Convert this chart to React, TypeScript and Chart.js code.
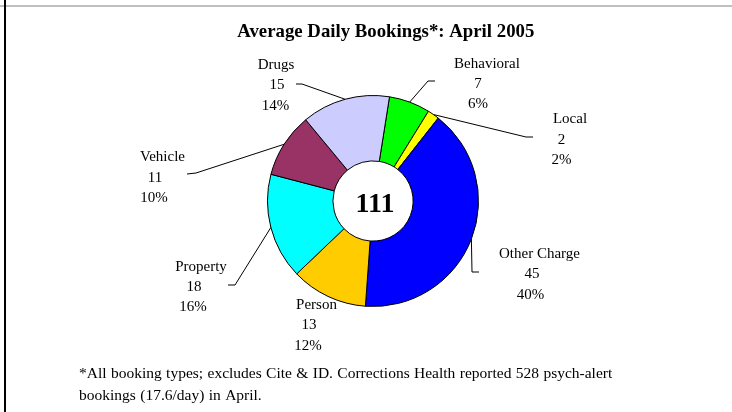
import React, { useEffect, useRef } from "react";
import { Chart, registerables } from "chart.js";

Chart.register(...registerables);

const categories = ["Behavioral", "Local", "Other Charge", "Person", "Property", "Vehicle", "Drugs"];
const bookings = [7, 2, 45, 13, 18, 11, 15];
const percentLabels = ["6%", "2%", "40%", "12%", "16%", "10%", "14%"];
const sliceColors = ["#00FF00", "#FFFF00", "#0000FF", "#FFCC00", "#00FFFF", "#993366", "#CCCCFF"];
const titleText = "Average Daily Bookings*: April 2005";
const footnoteLines = [
  "*All booking types; excludes Cite & ID. Corrections Health reported 528 psych-alert",
  "bookings (17.6/day) in April.",
];

const SERIF = '"Liberation Serif", "Times New Roman", serif';

// label layout: per-line [centerX, baselineY], leader path points after the arc anchor
const labelLayout: Record<string, { lines: number[][]; leader: number[][] }> = {
  Behavioral: { lines: [[487, 68], [478, 88], [478, 108]], leader: [[428, 81], [435, 81]] },
  Local: { lines: [[570, 123], [561.5, 143.5], [561.5, 164]], leader: [[526, 137], [533, 137]] },
  "Other Charge": { lines: [[539.5, 258], [532, 278], [530.5, 298.5]], leader: [[472, 272], [479, 272]] },
  Person: { lines: [[316.5, 309], [309, 329], [308, 349.5]], leader: [] },
  Property: { lines: [[201, 271], [194, 291], [193, 311]], leader: [[235, 285], [228, 285]] },
  Vehicle: { lines: [[162.5, 161], [155, 181.5], [154, 202]], leader: [[196, 173], [187, 174]] },
  Drugs: { lines: [[276, 69], [277, 89], [275.5, 110]], leader: [[302, 84], [296, 84]] },
};

const decorPlugin = {
  id: "decor",
  beforeDraw(chart: any) {
    const ctx = chart.ctx;
    ctx.save();
    ctx.fillStyle = "#ffffff";
    ctx.fillRect(0, 0, chart.width, chart.height);
    ctx.restore();
  },
  afterDatasetsDraw(chart: any) {
    const ctx = chart.ctx;
    const meta = chart.getDatasetMeta(0);
    ctx.save();
    // frame lines
    ctx.fillStyle = "#c0c0c0";
    ctx.fillRect(0, 5, chart.width, 2);
    ctx.fillStyle = "#000000";
    ctx.fillRect(4, 0, 2, chart.height);

    // title
    ctx.fillStyle = "#000";
    ctx.font = `bold 18.8px ${SERIF}`;
    ctx.textAlign = "center";
    ctx.textBaseline = "alphabetic";
    ctx.fillText(titleText, 385.8, 37);

    // labels + leader lines
    ctx.font = `15px ${SERIF}`;
    meta.data.forEach((arc: any, i: number) => {
      const cat = categories[i];
      const lay = labelLayout[cat];
      if (!lay) return;
      const texts = [cat, String(bookings[i]), percentLabels[i]];
      ctx.fillStyle = "#000";
      ctx.textAlign = "center";
      texts.forEach((t, j) => ctx.fillText(t, lay.lines[j][0], lay.lines[j][1]));
      if (lay.leader.length) {
        const p = arc.getProps(["x", "y", "startAngle", "endAngle", "outerRadius"], true);
        const mid = (p.startAngle + p.endAngle) / 2;
        const ax = p.x + Math.cos(mid) * p.outerRadius;
        const ay = p.y + Math.sin(mid) * p.outerRadius;
        ctx.beginPath();
        ctx.moveTo(ax, ay);
        lay.leader.forEach((pt) => ctx.lineTo(pt[0], pt[1]));
        ctx.strokeStyle = "#000";
        ctx.lineWidth = 1;
        ctx.stroke();
      }
    });

    // center total
    const first = meta.data[0];
    if (first) {
      const total = bookings.reduce((a, b) => a + b, 0);
      ctx.font = `bold 28px ${SERIF}`;
      ctx.textAlign = "center";
      ctx.fillText(String(total), first.x + 2, first.y + 11);
    }

    // footnote
    ctx.font = `15.5px ${SERIF}`;
    ctx.textAlign = "left";
    try {
      (ctx as any).wordSpacing = "0.5px";
    } catch (e) {}
    ctx.fillText(footnoteLines[0], 79, 378);
    ctx.fillText(footnoteLines[1], 79, 399.5);
    ctx.restore();
  },
};

export default function App() {
  const ref = useRef<HTMLCanvasElement>(null);
  useEffect(() => {
    document.body.style.margin = "0";
    const canvas = ref.current!;
    const chart = new Chart(canvas, {
      type: "doughnut",
      data: {
        labels: categories,
        datasets: [
          {
            data: bookings,
            backgroundColor: sliceColors,
            borderColor: "#000000",
            borderWidth: 1,
            hoverOffset: 0,
          },
        ],
      },
      options: {
        responsive: false,
        animation: false,
        rotation: 9,
        cutout: "38%",
        layout: { padding: { left: 267, right: 253, top: 95, bottom: 105 } },
        plugins: {
          legend: { display: false },
          title: { display: false },
          tooltip: { enabled: false },
        },
      },
      plugins: [decorPlugin],
    });
    return () => chart.destroy();
  }, []);
  return <canvas ref={ref} width={732} height={412} style={{ display: "block", width: 732, height: 412 }} />;
}
